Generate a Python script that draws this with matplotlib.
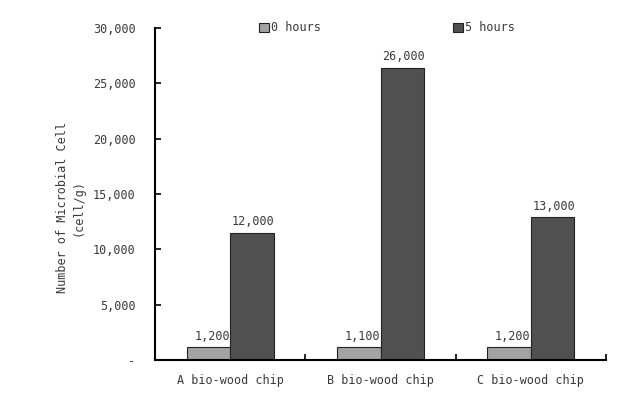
import matplotlib.pyplot as plt
import numpy as np

categories = ['A bio-wood chip', 'B bio-wood chip', 'C bio-wood chip']
hours0 = [1150, 1170, 1150]
hours5 = [11500, 26400, 12900]
labels0 = ['1,200', '1,100', '1,200']
labels5 = ['12,000', '26,000', '13,000']
yticks = [0, 5000, 10000, 15000, 20000, 25000, 30000]
yticklabels = ['-', '5,000', '10,000', '15,000', '20,000', '25,000', '30,000']

plt.rcParams['font.family'] = 'DejaVu Sans Mono'
txt = '#3a3a3a'
fs = 8.5

fig = plt.figure(figsize=(6.22, 3.93), dpi=100)
ax = fig.add_axes([0.2492, 0.0840, 0.7251, 0.8448])

x = np.arange(len(categories)) + 0.5
w = 0.29
ax.bar(x - w / 2, hours0, w, color='#a3a3a3', edgecolor='#222222', lw=0.8, label='0 hours')
ax.bar(x + w / 2, hours5, w, color='#505050', edgecolor='#222222', lw=0.8, label='5 hours')

for xi, h, s in zip(x - w / 2, hours0, labels0):
    ax.text(xi + 0.025, h + 400, s, ha='center', va='bottom', fontsize=fs, color=txt)
for xi, h, s in zip(x + w / 2, hours5, labels5):
    ax.text(xi + 0.01, h + 400, s, ha='center', va='bottom', fontsize=fs, color=txt)

ax.set_xlim(0, 3)
ax.set_ylim(0, 30000)
ax.set_yticks(yticks)
ax.set_yticklabels(yticklabels, fontsize=fs, color=txt)
ax.set_xticks([0, 1, 2, 3])
ax.set_xticklabels([])
ax.set_xticks(x, minor=True)
ax.set_xticklabels(categories, minor=True, fontsize=fs, color=txt)
ax.tick_params(axis='x', which='minor', length=0, pad=10)
ax.tick_params(axis='x', which='major', direction='in', length=4, width=1.2)
ax.tick_params(axis='y', direction='in', length=4, width=1.2, pad=14)

for s in ['top', 'right']:
    ax.spines[s].set_visible(False)
for s in ['left', 'bottom']:
    ax.spines[s].set_linewidth(1.5)

ax.set_ylabel('Number of Microbial Cell\n(cell/g)', fontsize=fs, color=txt)
ax.yaxis.set_label_coords(-0.157, 0.46)

ax.legend(loc='center', bbox_to_anchor=(0.515, 1.0), ncol=2, frameon=False,
          fontsize=fs, handlelength=0.8, handleheight=0.8, handletextpad=0.2,
          columnspacing=11.2, labelcolor=txt)

fig.savefig('out.png', dpi=100)
